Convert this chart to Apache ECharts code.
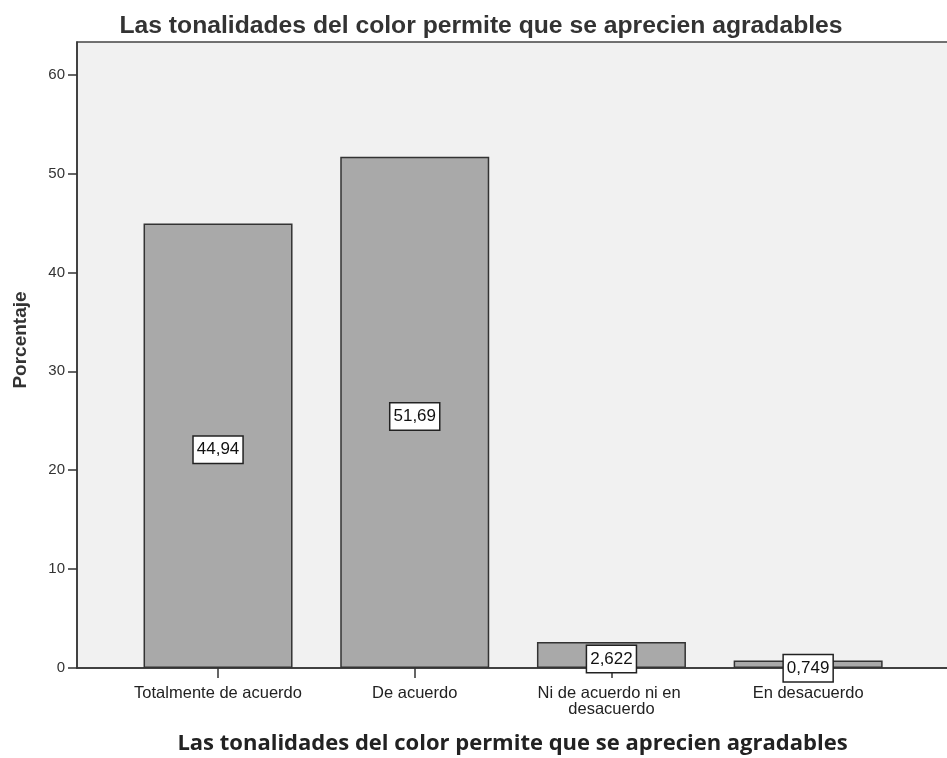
<!DOCTYPE html>
<html>
<head>
<meta charset="utf-8">
<script src="https://cdn.jsdelivr.net/npm/echarts@6/dist/echarts.min.js"></script>
<style>
  html, body { margin: 0; padding: 0; background: #fff; }
  #chart { width: 947px; height: 758px; }
</style>
</head>
<body>
<div id="chart"></div>
<script>
const title = 'Las tonalidades del color permite que se aprecien agradables'
const categories = ['Totalmente de acuerdo', 'De acuerdo', 'Ni de acuerdo ni en desacuerdo', 'En desacuerdo']
const values = [44.94, 51.69, 2.622, 0.749]
const yTicks = [0, 10, 20, 30, 40, 50, 60]
const catPositions = [0, 1, 2, 3]

const myChart = echarts.init(document.getElementById('chart'))
const font = 'Liberation Sans, Arial, sans-serif'
const option = {
  animation: false,
  title: {
    text: title,
    left: 476,
    top: 9,
    textAlign: 'center',
    textStyle: { fontFamily: font, fontSize: 24.7, fontWeight: 'bold', color: '#333' }
  },
  grid: {
    left: 77,
    right: -1,
    top: 42,
    bottom: 90,
    outerBoundsMode: 'none',
    containLabel: false,
    show: true,
    backgroundColor: '#f1f1f1',
    borderColor: '#444',
    borderWidth: 1.5
  },
  xAxis: {
    type: 'value',
    min: -0.717,
    max: 3.711,
    name: title,
    nameLocation: 'middle',
    nameGap: 65,
    nameTextStyle: { fontFamily: 'Open Sans, sans-serif', fontSize: 22, fontWeight: 'bold', color: '#222' },
    splitLine: { show: false },
    axisLine: { show: true, onZero: false, lineStyle: { color: '#333', width: 1.5 } },
    axisTick: { show: true, length: 10, customValues: catPositions, lineStyle: { color: '#333', width: 1.5 } },
    axisLabel: {
      customValues: catPositions,
      formatter: v => categories[Math.round(v)],
      fontFamily: font,
      fontSize: 16.5,
      color: '#222',
      margin: 17,
      width: 195,
      overflow: 'break',
      lineHeight: 16
    }
  },
  yAxis: {
    type: 'value',
    min: 0,
    max: 63.3,
    interval: 10,
    name: 'Porcentaje',
    nameLocation: 'middle',
    nameGap: 47,
    nameTextStyle: { fontFamily: font, fontSize: 19, fontWeight: 'bold', color: '#333', padding: [0, 0, 0, 30] },
    splitLine: { show: false },
    axisLine: { show: true, onZero: false, lineStyle: { color: '#333', width: 1.5 } },
    axisTick: { show: true, length: 9, customValues: yTicks, lineStyle: { color: '#333', width: 1.5 } },
    axisLabel: {
      customValues: yTicks,
      fontFamily: font,
      fontSize: 15,
      color: '#333',
      margin: 12
    }
  },
  series: [
    {
      type: 'bar',
      barWidth: 149,
      data: values.map((v, i) => [catPositions[i], v]),
      itemStyle: { color: '#a9a9a9', borderColor: '#333', borderWidth: 1.5 },
      label: {
        show: true,
        position: 'inside',
        offset: [0, 4],
        formatter: p => String(p.value[1]).replace('.', ','),
        fontFamily: font,
        fontSize: 17,
        color: '#111',
        backgroundColor: '#fff',
        borderColor: '#222',
        borderWidth: 1.5,
        padding: [5, 3, 4, 3]
      }
    }
  ]
}
myChart.setOption(option, true)
</script>
</body>
</html>
